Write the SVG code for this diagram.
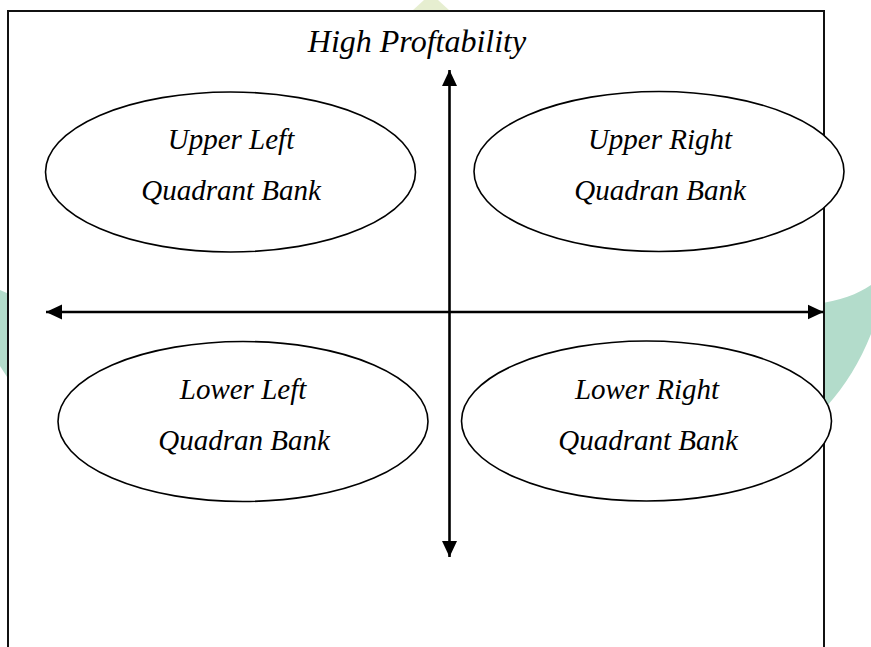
<svg xmlns="http://www.w3.org/2000/svg" width="871" height="647" viewBox="0 0 871 647">
  <style>
    .lbl { font-family: "Liberation Serif", "Times New Roman", serif; font-style: italic; font-size: 29px; fill: #000; text-anchor: middle; }
    .title { font-size: 32px; }
    .node ellipse { fill: #fff; stroke: #000; stroke-width: 1.6; }
    .axis { stroke: #000; stroke-width: 2.6; fill: none; }
    .wm-green { fill: #b3dccb; }
    .wm-pale { fill: #e6eed0; }
  </style>
  <defs>
    <marker id="arrow" markerUnits="userSpaceOnUse" markerWidth="16" markerHeight="16" refX="16" refY="7.5" orient="auto-start-reverse" viewBox="0 0 16 15">
      <path d="M0,0 L16,7.5 L0,15 Z" fill="#000"/>
    </marker>
  </defs>

  <rect width="871" height="647" fill="#fff"/>

  <g id="watermark">
    <polygon class="wm-pale" points="412,11 424,0 438,0 450,11"/>
    <polygon class="wm-green" points="0,290 9,294 9,380 0,366"/>
    <path class="wm-green" d="M815,304 C840,301 858,294 871,285 L871,334 C860,362 845,386 827,406 L815,410 Z"/>
  </g>

  <rect id="frame" x="8" y="11" width="816" height="700" fill="#fff" stroke="#111" stroke-width="2"/>

  <g id="title">
    <text class="lbl title" x="417" y="52">High Proftability</text>
  </g>

  <g id="connectors">
    <line class="axis" x1="449.5" y1="70" x2="449.5" y2="557" marker-start="url(#arrow)" marker-end="url(#arrow)"/>
    <line class="axis" x1="46" y1="312" x2="823.5" y2="312" marker-start="url(#arrow)" marker-end="url(#arrow)"/>
  </g>

  <g id="upper-left" class="node">
    <ellipse cx="230.5" cy="172" rx="185" ry="80"/>
    <text class="lbl" x="231" y="149">Upper Left</text>
    <text class="lbl" x="231" y="200">Quadrant Bank</text>
  </g>

  <g id="upper-right" class="node">
    <ellipse cx="659" cy="171.5" rx="185" ry="80"/>
    <text class="lbl" x="660" y="149">Upper Right</text>
    <text class="lbl" x="660" y="200">Quadran Bank</text>
  </g>

  <g id="lower-left" class="node">
    <ellipse cx="243" cy="421.5" rx="185" ry="80"/>
    <text class="lbl" x="243" y="399">Lower Left</text>
    <text class="lbl" x="244" y="450">Quadran Bank</text>
  </g>

  <g id="lower-right" class="node">
    <ellipse cx="646.5" cy="421" rx="185" ry="80"/>
    <text class="lbl" x="647" y="399">Lower Right</text>
    <text class="lbl" x="648" y="450">Quadrant Bank</text>
  </g>
</svg>
